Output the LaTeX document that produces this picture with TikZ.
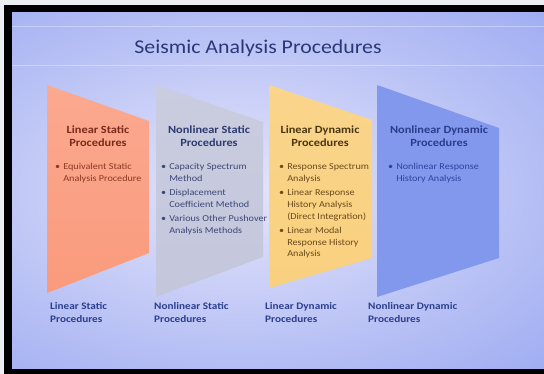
\documentclass[tikz,border=0pt]{standalone}
\usepackage{fontspec}
\setmainfont{Carlito}[FakeStretch=1.12]
\usetikzlibrary{positioning}
\definecolor{framegray}{HTML}{ECEFF1}
\definecolor{slideblue}{HTML}{7C90EE}
\definecolor{slidelight}{HTML}{E4E5FA}
\definecolor{titlenavy}{HTML}{2B3878}
\definecolor{capblue}{HTML}{2C3E8E}
\definecolor{orangepanel}{HTML}{FA9A7C}
\definecolor{graypanel}{HTML}{C4C7DC}
\definecolor{yellowpanel}{HTML}{F9D07E}
\definecolor{bluepanel}{HTML}{8298EC}
\definecolor{lshtext}{HTML}{7A2A1A}
\definecolor{lsitext}{HTML}{8C3A24}
\definecolor{nshtext}{HTML}{2C3A6E}
\definecolor{nsitext}{HTML}{3B4775}
\definecolor{ldhtext}{HTML}{4A3512}
\definecolor{lditext}{HTML}{6B4A1C}
\definecolor{ndhtext}{HTML}{2A3C8C}
\definecolor{nditext}{HTML}{2B44A0}
\tikzset{
  panelhead/.style={font=\fontsize{11}{13}\selectfont\bfseries,align=center,inner sep=0pt,anchor=north},
  itemlist/.style={font=\fontsize{9.1}{11.7}\selectfont,align=left,inner sep=0pt,anchor=north west},
  caption/.style={font=\fontsize{10}{13}\selectfont\bfseries,text=capblue,align=left,inner sep=0pt,anchor=north west}
}
\newcommand\bul[1]{\textbullet\hspace{3pt}\begin{tabular}[t]{@{}l@{}}#1\end{tabular}}

\begin{document}
\begin{tikzpicture}[x=1pt,y=-1pt]
\useasboundingbox (0,0) rectangle (544,374);
% frame and slide background
\fill[framegray] (0,0) rectangle (544,374);
\fill[black] (4,5) rectangle (544,374);
\begin{scope}
  \clip (12,13) rectangle (544,368);
  \fill[slideblue] (12,13) rectangle (544,368);
  \shade[inner color=slidelight,outer color=slideblue] (-420,-190) rectangle (900,570);
  \draw[white,opacity=.35,line width=1pt] (12,27) -- (544,27);
  \draw[white,opacity=.35,line width=1pt] (12,66) -- (544,66);
\end{scope}

\node[font=\fontsize{19.5}{23}\selectfont,text=titlenavy] (title) at (258,48) {Seismic Analysis Procedures};

% panels
\shade[top color=orangepanel!85!white,bottom color=orangepanel] (47,85) -- (149,121) -- (149,253) -- (47,293) -- cycle;
\shade[top color=graypanel!90!white,bottom color=graypanel] (156,85) -- (263,122) -- (263,257) -- (156,297) -- cycle;
\shade[top color=yellowpanel!90!white,bottom color=yellowpanel] (269,85) -- (372,120) -- (372,258) -- (269,288) -- cycle;
\fill[bluepanel] (377,85) -- (499,128) -- (499,258) -- (377,297) -- cycle;

% panel texts
\node[panelhead,text=lshtext] (lshead) at (98,125.5) {Linear Static\\Procedures};
\node[itemlist,text=lsitext] (lsitems) at (55,161.5)
  {\bul{Equivalent Static\\Analysis Procedure}};

\node[panelhead,text=nshtext] (nshead) at (209,125.5) {Nonlinear Static\\Procedures};
\node[itemlist,text=nsitext] (nsitems) at (161,161.5)
  {\bul{Capacity Spectrum\\Method}\\[1.5pt]
   \bul{Displacement\\Coefficient Method}\\[1.5pt]
   \bul{Various Other Pushover\\Analysis Methods}};

\node[panelhead,text=ldhtext] (ldhead) at (320,125.5) {Linear Dynamic\\Procedures};
\node[itemlist,text=lditext] (lditems) at (279,161.5)
  {\bul{Response Spectrum\\Analysis}\\[1.5pt]
   \bul{Linear Response\\History Analysis\\(Direct Integration)}\\[1.5pt]
   \bul{Linear Modal\\Response History\\Analysis}};

\node[panelhead,text=ndhtext] (ndhead) at (439,125.5) {Nonlinear Dynamic\\Procedures};
\node[itemlist,text=nditext] (nditems) at (388,161.5)
  {\bul{Nonlinear Response\\History Analysis}};

% captions under the panels
\node[caption] (lscap) at (50,302.5) {Linear Static\\Procedures};
\node[caption] (nscap) at (154,302.5) {Nonlinear Static\\Procedures};
\node[caption] (ldcap) at (265,302.5) {Linear Dynamic\\Procedures};
\node[caption] (ndcap) at (368,302.5) {Nonlinear Dynamic\\Procedures};
\end{tikzpicture}
\end{document}
